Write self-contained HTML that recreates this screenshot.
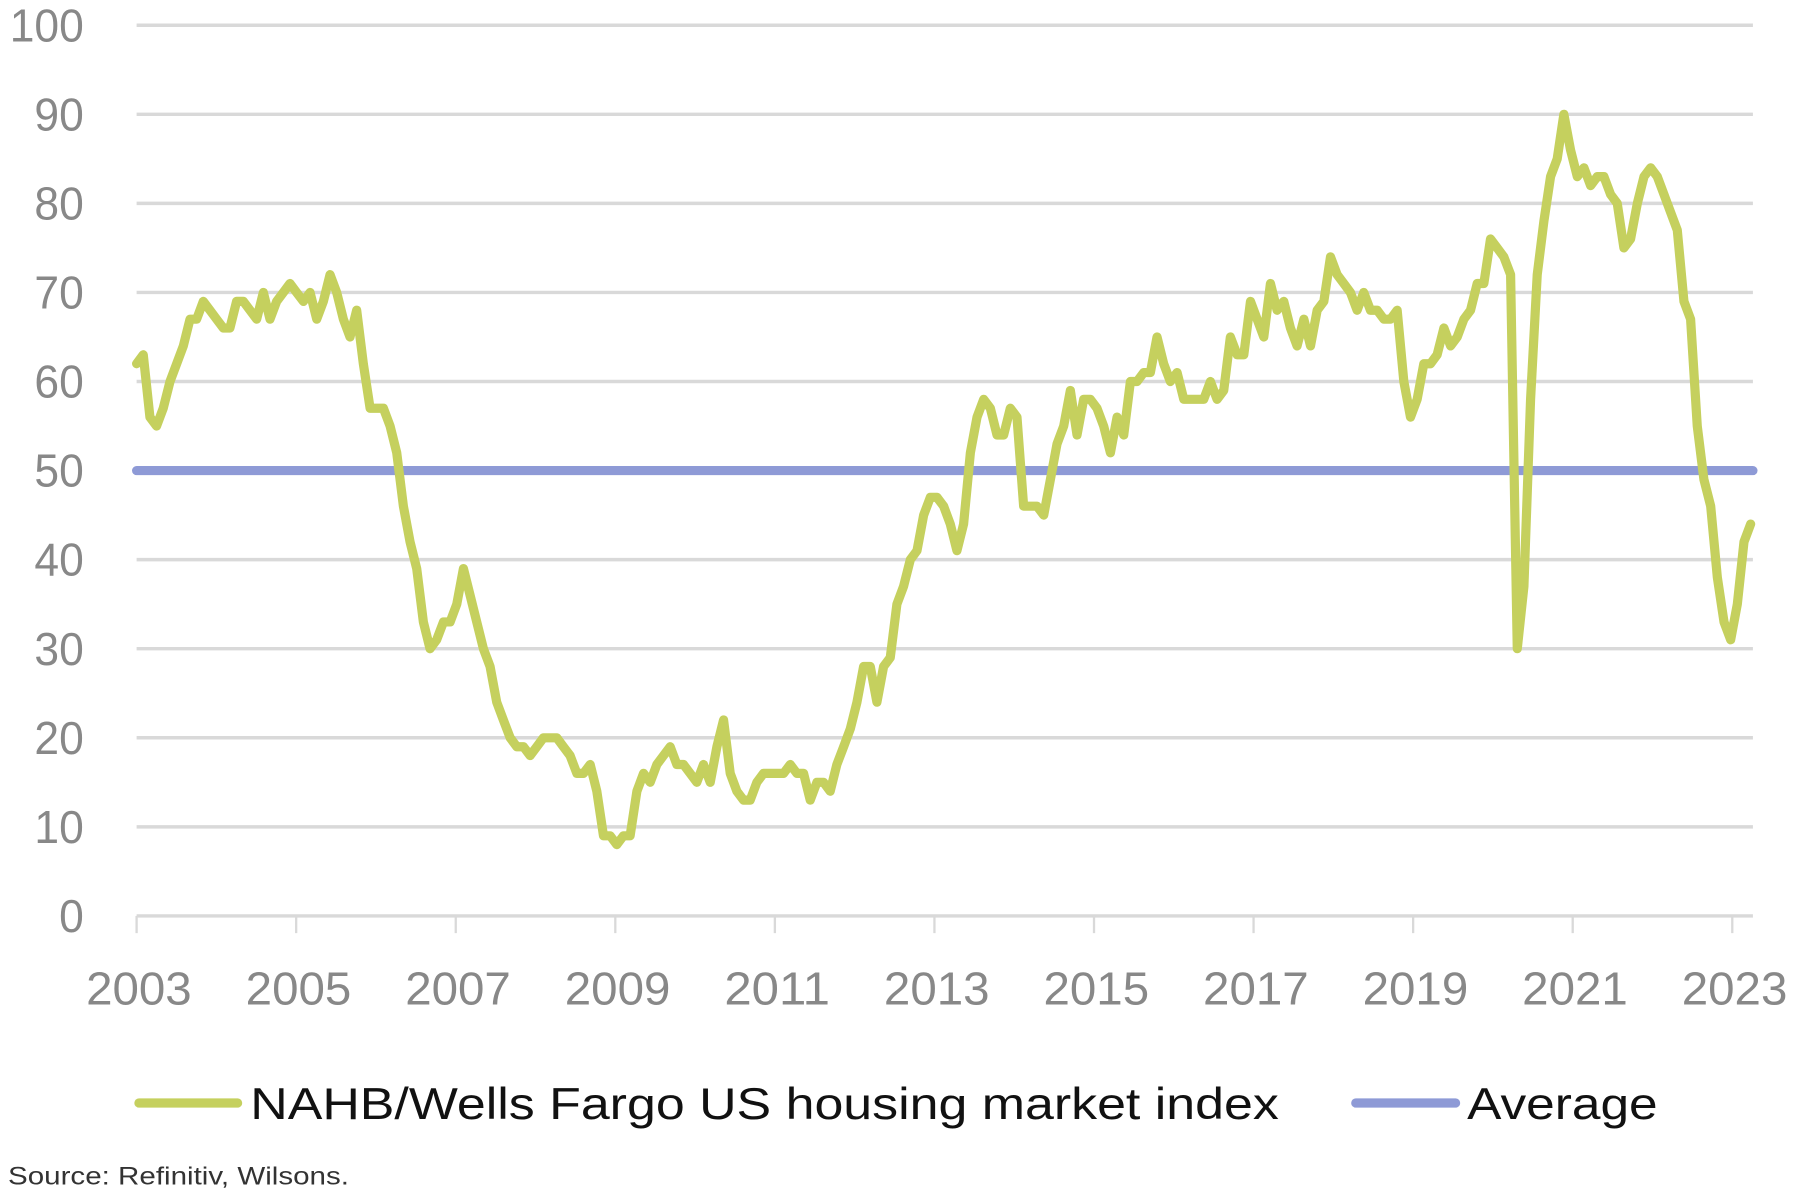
<!DOCTYPE html>
<html><head><meta charset="utf-8"><style>
html,body{margin:0;padding:0;background:#fff;width:1800px;height:1204px;overflow:hidden}
svg{display:block}
text{font-family:"Liberation Sans",sans-serif}
</style></head><body>
<svg id="chart" width="1800" height="1204" viewBox="0 0 1568 1049" preserveAspectRatio="none" xmlns="http://www.w3.org/2000/svg">
<g id="grid"></g>
<g id="yaxis"></g>
<g id="xaxis"></g>
<g id="series"></g>
<g>
<line x1="121" y1="961" x2="207" y2="961" stroke="#c5d05e" stroke-width="8" stroke-linecap="round"/>
<text x="218" y="975" font-size="39" fill="#111" textLength="896" lengthAdjust="spacingAndGlyphs">NAHB/Wells Fargo US housing market index</text>
<line x1="1181" y1="961" x2="1268" y2="961" stroke="#8e9ad6" stroke-width="8" stroke-linecap="round"/>
<text x="1278" y="975" font-size="39" fill="#111" textLength="166" lengthAdjust="spacingAndGlyphs">Average</text>
</g>
<text x="7" y="1032" font-size="22" fill="#333" textLength="297" lengthAdjust="spacingAndGlyphs">Source: Refinitiv, Wilsons.</text>
</svg>
<script>
const values = [62,63,56,55,57,60,62,64,67,67,69,68,
67,66,66,69,69,68,67,70,67,69,70,71,
70,69,70,67,69,72,70,67,65,68,62,57,
57,57,55,52,46,42,39,33,30,31,33,33,
35,39,36,33,30,28,24,22,20,19,19,18,
19,20,20,20,19,18,16,16,17,14,9,9,
8,9,9,14,16,15,17,18,19,17,17,16,
15,17,15,19,22,16,14,13,13,15,16,16,
16,16,17,16,16,13,15,15,14,17,19,21,
24,28,28,24,28,29,35,37,40,41,45,47,
47,46,44,41,44,52,56,58,57,54,54,57,
56,46,46,46,45,49,53,55,59,54,58,58,
57,55,52,56,54,60,60,61,61,65,62,60,
61,58,58,58,58,60,58,59,65,63,63,69,
67,65,71,68,69,66,64,67,64,68,69,74,
72,71,70,68,70,68,68,67,67,68,60,56,
58,62,62,63,66,64,65,67,68,71,71,76,
75,74,72,30,37,58,72,78,83,85,90,86,
83,84,82,83,83,81,80,75,76,80,83,84,
83,81,79,77,69,67,55,49,46,38,33,31,
35,42,44];
const averageValue = 50;
const yTicks = [0,10,20,30,40,50,60,70,80,90,100];
const xTickYears = [2003,2005,2007,2009,2011,2013,2015,2017,2019,2021,2023];
const startYear = 2003;

const NS="http://www.w3.org/2000/svg";
const X0=119, PXY=69.5, Y0=798, PXV=7.76, XR=1527;
const xYear = y => X0 + (y-startYear)*PXY;
const xIdx = i => X0 + i*5.81;
const yV = v => Y0 - v*PXV;
function mk(tag, attrs, parent){const e=document.createElementNS(NS,tag);for(const k in attrs)e.setAttribute(k,attrs[k]);parent.appendChild(e);return e;}
const grid=document.getElementById('grid'), ya=document.getElementById('yaxis'), xa=document.getElementById('xaxis'), se=document.getElementById('series');
yTicks.forEach(t=>{
  const l=mk('line',{x1:X0,x2:XR,y1:yV(t),y2:yV(t),stroke:'#d9d9d9','stroke-width':3},grid);
  
  
  const tx=mk('text',{x:73,y:yV(t)+14,'font-size':40,fill:'#888','text-anchor':'end',textLength:String(t).length*21.5,lengthAdjust:'spacingAndGlyphs'},ya);
  tx.textContent=t;
  
  
});
xTickYears.forEach(yr=>{
  const l=mk('line',{x1:xYear(yr),x2:xYear(yr),y1:Y0,y2:Y0+15,stroke:'#d9d9d9','stroke-width':2},xa);
  
  
  const tx=mk('text',{x:xYear(yr)+2,y:875,'font-size':40,fill:'#888','text-anchor':'middle',textLength:92,lengthAdjust:'spacingAndGlyphs'},xa);
  tx.textContent=yr;
  
  
});
const avg=mk('line',{x1:X0,x2:XR,y1:yV(averageValue),y2:yV(averageValue),stroke:'#8e9ad6','stroke-width':8,'stroke-linecap':'round'},se);


const d=values.map((v,i)=>(i?'L':'M')+xIdx(i).toFixed(1)+' '+yV(v).toFixed(1)).join(' ');
const p=mk('path',{d:d,fill:'none',stroke:'#c5d05e','stroke-width':8,'stroke-linejoin':'round','stroke-linecap':'round'},se);


</script>
</body></html>
